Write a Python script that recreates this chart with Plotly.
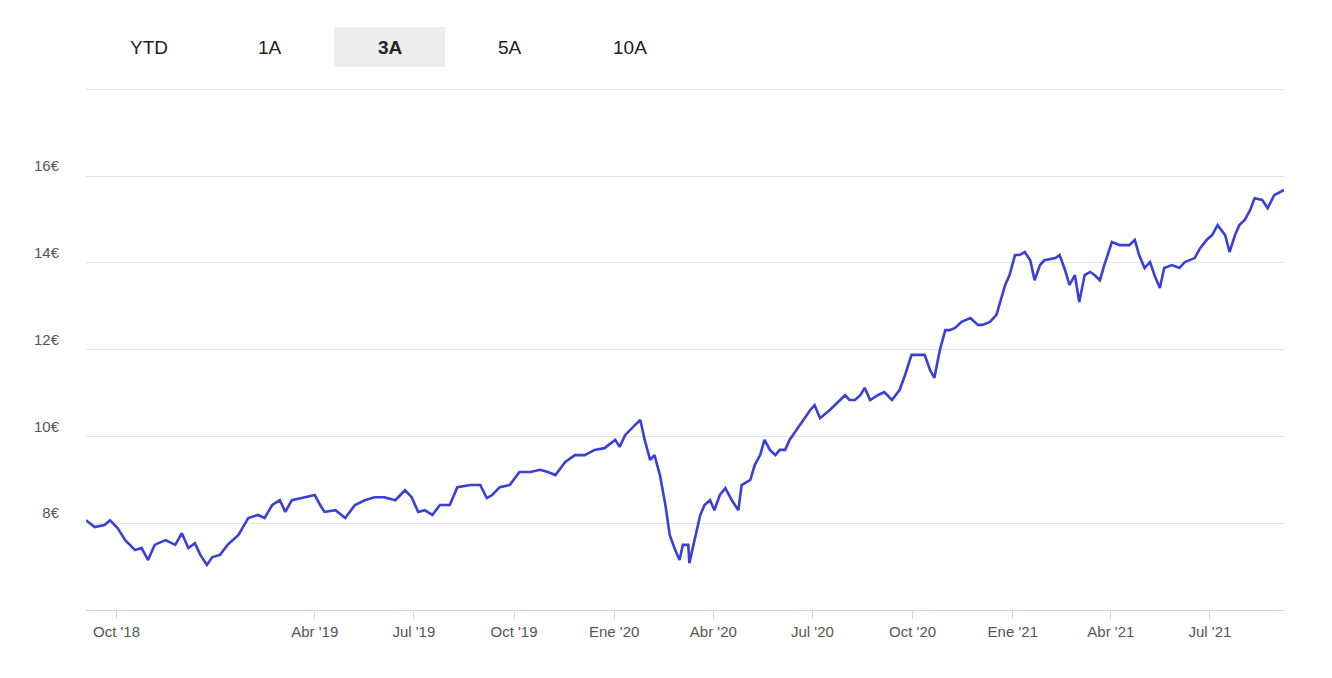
import pandas as pd
import plotly.graph_objects as go

# ---------- data ----------
START = "2018-09-03"
DAYS = [0, 8, 17, 22, 29, 36, 45, 51, 57, 63, 73, 82, 88, 94, 100, 105, 111, 116, 123, 130,
        140, 149, 158, 164, 171, 178, 183, 189, 201, 210, 215, 219, 229, 238, 247, 256, 265, 274, 284, 293,
        299, 305, 311, 318, 325, 334, 341, 353, 362, 368, 373, 380, 389, 398, 408, 417, 424, 431, 440, 449,
        458, 467, 476, 486, 490, 495, 504, 509, 513, 518, 522, 527, 532, 536, 541, 545, 548, 553, 554, 559,
        564, 568, 573, 577, 582, 587, 593, 599, 602, 610, 614, 619, 623, 628, 633, 637, 642, 646, 651, 655,
        665, 669, 674, 683, 692, 697, 701, 706, 711, 715, 720, 727, 733, 740, 747, 752, 758, 764, 770, 775,
        779, 784, 789, 793, 798, 804, 812, 819, 823, 830, 836, 844, 848, 853, 857, 862, 867, 871, 876, 880,
        890, 894, 899, 903, 908, 912, 917, 922, 926, 931, 935, 942, 949, 958, 963, 967, 972, 977, 981, 986,
        990, 997, 1004, 1009, 1018, 1023, 1029, 1034, 1039, 1046, 1050, 1055, 1059, 1064, 1069, 1073, 1080, 1085, 1091, 1100]
PRICES = [8.07, 7.91, 7.96, 8.07, 7.89, 7.61, 7.38, 7.43, 7.15, 7.50, 7.61, 7.50, 7.77, 7.43, 7.54, 7.27, 7.04, 7.22, 7.27, 7.50,
          7.73, 8.12, 8.19, 8.12, 8.42, 8.53, 8.26, 8.53, 8.60, 8.65, 8.42, 8.26, 8.30, 8.12, 8.42, 8.53, 8.60, 8.60, 8.53, 8.76,
          8.60, 8.26, 8.30, 8.19, 8.42, 8.42, 8.83, 8.88, 8.88, 8.58, 8.65, 8.83, 8.88, 9.18, 9.18, 9.23, 9.18, 9.11, 9.41, 9.57,
          9.57, 9.69, 9.73, 9.92, 9.76, 10.03, 10.26, 10.38, 9.92, 9.46, 9.57, 9.11, 8.42, 7.73, 7.38, 7.15, 7.50, 7.50, 7.08, 7.61,
          8.19, 8.42, 8.53, 8.30, 8.65, 8.81, 8.53, 8.30, 8.88, 9.00, 9.34, 9.57, 9.92, 9.69, 9.57, 9.69, 9.69, 9.92, 10.10, 10.26,
          10.61, 10.72, 10.42, 10.61, 10.84, 10.95, 10.84, 10.84, 10.95, 11.12, 10.84, 10.95, 11.02, 10.84, 11.07, 11.41, 11.88, 11.88, 11.88, 11.53,
          11.35, 11.99, 12.45, 12.45, 12.50, 12.64, 12.73, 12.57, 12.57, 12.64, 12.80, 13.49, 13.72, 14.18, 14.18, 14.25, 14.06, 13.60, 13.95, 14.06,
          14.11, 14.18, 13.83, 13.49, 13.72, 13.10, 13.72, 13.79, 13.72, 13.60, 13.95, 14.48, 14.41, 14.41, 14.53, 14.18, 13.88, 14.02, 13.72, 13.42,
          13.88, 13.95, 13.88, 14.02, 14.11, 14.34, 14.53, 14.64, 14.87, 14.64, 14.25, 14.64, 14.87, 14.99, 15.22, 15.49, 15.45, 15.26, 15.56, 15.68]

Y_TICKS = [6, 8, 10, 12, 14, 16, 18]
Y_LABELS = ["", "8€", "10€", "12€", "14€", "16€", ""]
X_TICKS = ["2018-10-01", "2019-04-01", "2019-07-01", "2019-10-01", "2020-01-01", "2020-04-01",
           "2020-07-01", "2020-10-01", "2021-01-01", "2021-04-01", "2021-07-01"]
X_LABELS = ["Oct '18", "Abr '19", "Jul '19", "Oct '19", "Ene '20", "Abr '20",
            "Jul '20", "Oct '20", "Ene '21", "Abr '21", "Jul '21"]
BUTTONS = ["YTD", "1A", "3A", "5A", "10A"]

dates = pd.to_datetime(START) + pd.to_timedelta(DAYS, unit="D")

fig = go.Figure()
fig.add_trace(go.Scatter(x=dates, y=PRICES, mode="lines",
                         line=dict(color="#3a3fd6", width=2.6)))

# selector buttons above the plot
btn_x = [0.0526, 0.1536, 0.2538, 0.3539, 0.4541]
fig.add_shape(type="rect", xref="paper", yref="paper", x0=0.207, x1=0.2997, y0=1.040, y1=1.117,
              fillcolor="#ececec", line_width=0, layer="below")
for name, bx in zip(BUTTONS, btn_x):
    fig.add_annotation(text=f"<b>{name}</b>" if name == "3A" else name, x=bx, y=1.0785,
                       xref="paper", yref="paper", xanchor="center", yanchor="middle",
                       showarrow=False, font=dict(size=19, color="#222"))

fig.update_layout(
    width=1332, height=678,
    margin=dict(l=78, r=56, t=80, b=76),
    plot_bgcolor="white", paper_bgcolor="white",
    showlegend=False,
    font=dict(family="Liberation Sans, Arial", color="#555", size=15),
)
fig.update_xaxes(range=[dates[0], dates[-1]], tickvals=X_TICKS, ticktext=X_LABELS,
                 showgrid=False, showline=True, linecolor="#ccd6eb", ticks="outside",
                 ticklen=8, tickcolor="#ccd6eb", tickfont=dict(size=15, color="#555"))
fig.update_yaxes(range=[6, 18.03], tickvals=Y_TICKS, ticktext=Y_LABELS,
                 showgrid=True, gridcolor="#e3e3e3", zeroline=False,
                 ticklabelstandoff=26, ticklabelshift=-10,
                 tickfont=dict(size=15, color="#555"))

fig.write_html("out.html")
